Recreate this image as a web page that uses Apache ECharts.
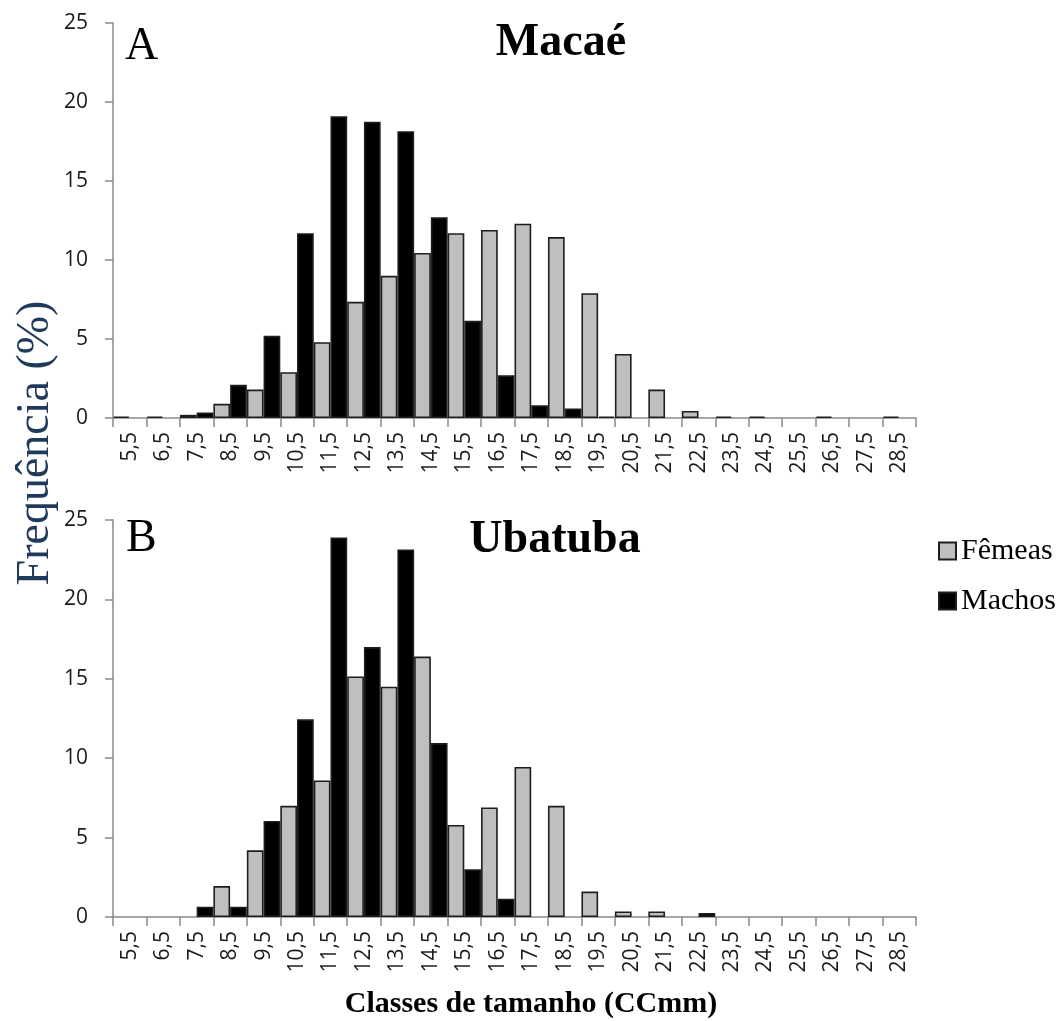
<!DOCTYPE html>
<html>
<head>
<meta charset="utf-8">
<title>Frequência por classes de tamanho</title>
<script src="https://cdn.jsdelivr.net/npm/echarts@6/dist/echarts.min.js"></script>
<style>
  html, body { margin: 0; padding: 0; background: #fff; }
  #chart { width: 1059px; height: 1021px; }
</style>
</head>
<body>
<div id="chart"></div>
<script>
// Size classes (carapace length, mm)
const classes = ['5,5','6,5','7,5','8,5','9,5','10,5','11,5','12,5','13,5','14,5','15,5','16,5',
                 '17,5','18,5','19,5','20,5','21,5','22,5','23,5','24,5','25,5','26,5','27,5','28,5'];

// Frequency (%) per class — Macaé
const macaeFemeas = [0.1, 0.1, 0.2, 0.9, 1.8, 2.9, 4.8, 7.35, 9.0, 10.45, 11.7, 11.9,
                     12.3, 11.45, 7.9, 4.05, 1.8, 0.45, 0.1, 0.1, null, 0.1, null, 0.1];
const macaeMachos  = [null, null, 0.35, 2.1, 5.2, 11.7, 19.1, 18.75, 18.15, 12.7, 6.15, 2.7,
                      0.8, 0.6, 0.1, null, null, null, null, null, null, null, null, null];

// Frequency (%) per class — Ubatuba
const ubatubaFemeas = [null, null, null, 1.95, 4.2, 7.0, 8.6, 15.15, 14.5, 16.4, 5.8, 6.9,
                       9.45, 7.0, 1.6, 0.35, 0.35, null, null, null, null, null, null, null];
const ubatubaMachos = [null, null, 0.65, 0.65, 6.05, 12.45, 23.9, 17.0, 23.15, 10.95, 3.0, 1.15,
                       null, null, null, null, null, 0.25, null, null, null, null, null, null];

// Y axis ticks
const yTicks = { min: 0, max: 25, interval: 5 };

const SERIF = '"Liberation Serif", "Times New Roman", serif';
const SANS = '"Open Sans", "Noto Sans", sans-serif';
const AXIS_GRAY = '#8a8a8a';

const chart = echarts.init(document.getElementById('chart'), null, { renderer: 'canvas' });

function xAxisFor(gridIndex) {
  return {
    type: 'category',
    gridIndex,
    data: classes,
    boundaryGap: true,
    axisLine: { lineStyle: { color: AXIS_GRAY, width: 1.5 } },
    axisTick: { show: true, interval: 0, length: 9, lineStyle: { color: AXIS_GRAY, width: 1.5 } },
    axisLabel: { interval: 0, rotate: 90, margin: 14, fontFamily: SANS, fontSize: 21, color: '#1a1a1a' },
    splitLine: { show: false }
  };
}

function yAxisFor(gridIndex) {
  return {
    type: 'value',
    gridIndex,
    min: yTicks.min,
    max: yTicks.max,
    interval: yTicks.interval,
    axisLine: { show: true, lineStyle: { color: AXIS_GRAY, width: 1.5 } },
    axisTick: { show: true, length: 8, lineStyle: { color: AXIS_GRAY, width: 1.5 } },
    axisLabel: { margin: 25, fontFamily: SANS, fontSize: 21, color: '#1a1a1a' },
    splitLine: { show: false }
  };
}

const femStyle = { color: '#bfbfbf', borderColor: '#1e1e1e', borderWidth: 1.6 };
const macStyle = { color: '#000000', borderColor: '#1e1e1e', borderWidth: 1.6 };

function barSeries(name, data, style, idx) {
  return {
    name,
    type: 'bar',
    xAxisIndex: idx,
    yAxisIndex: idx,
    data,
    itemStyle: style,
    barGap: '0%',
    barCategoryGap: '0%',
    animation: false,
    emphasis: { disabled: true }
  };
}

// Text blocks are placed by their top edge
function label(text, x, y, font, align) {
  return { type: 'text', x, y, style: { text, font, fill: '#000', textAlign: align || 'left', textVerticalAlign: 'top' } };
}

const option = {
  backgroundColor: '#ffffff',
  animation: false,
  grid: [
    { left: 113, top: 23, width: 803, height: 395, containLabel: false },
    { left: 113, top: 520, width: 803, height: 397, containLabel: false }
  ],
  xAxis: [xAxisFor(0), xAxisFor(1)],
  yAxis: [yAxisFor(0), yAxisFor(1)],
  legend: {
    orient: 'vertical',
    left: 933,
    top: 531,
    itemWidth: 17,
    itemHeight: 17,
    itemGap: 20,
    icon: 'rect',
    data: ['Fêmeas', 'Machos'],
    textStyle: { fontFamily: SERIF, fontSize: 30, color: '#000', padding: [0, 0, 0, 0] },
    selectedMode: false
  },
  series: [
    barSeries('Fêmeas', macaeFemeas, femStyle, 0),
    barSeries('Machos', macaeMachos, macStyle, 0),
    barSeries('Fêmeas', ubatubaFemeas, femStyle, 1),
    barSeries('Machos', ubatubaMachos, macStyle, 1)
  ],
  graphic: [
    label('A', 125, 24, '46px ' + SERIF),
    label('Macaé', 561, 20, 'bold 46px ' + SERIF, 'center'),
    label('B', 126, 516, '46px ' + SERIF),
    label('Ubatuba', 555, 517, 'bold 46px ' + SERIF, 'center'),
    { type: 'text', x: 36, y: 443, rotation: Math.PI / 2,
      style: { text: 'Frequência (%)', font: '46px ' + SERIF, fill: '#1f3a5a', textAlign: 'center', textVerticalAlign: 'middle' } },
    label('Classes de tamanho (CCmm)', 531, 989, 'bold 30px ' + SERIF, 'center')
  ]
};

chart.setOption(option);
</script>
</body>
</html>
